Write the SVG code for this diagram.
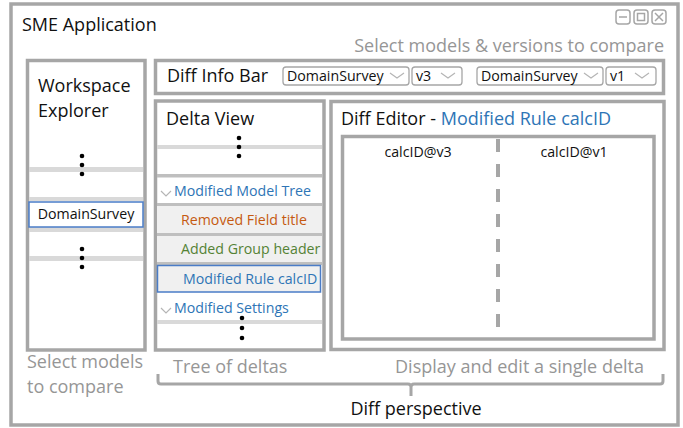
<svg xmlns="http://www.w3.org/2000/svg" width="683" height="428" viewBox="0 0 683 428">
  <style>
    text { font-family: "Open Sans", "Noto Sans", "DejaVu Sans", sans-serif; }
    .frame { fill: #ffffff; stroke: #a6a6a6; stroke-width: 3.5; }
    .band { fill: #d9d9d9; }
    .sep { fill: #bfbfbf; }
    .row { fill: #f0f0f0; }
    .sel { fill: #f0f0f0; stroke: #4a7cc7; stroke-width: 1.5; }
    .selw { fill: #ffffff; stroke: #4a7cc7; stroke-width: 1.5; }
    .drop { fill: #ffffff; stroke: #a6a6a6; stroke-width: 1.3; }
    .chev { fill: none; stroke: #b5b5b5; stroke-width: 1.2; }
    .title { font-size: 18px; fill: #111111; }
    .note { font-size: 18px; fill: #969696; }
    .item { font-size: 14.2px; fill: #111111; }
    .blue { fill: #2e75b6; }
    .orange { fill: #c55a11; }
    .green { fill: #548235; }
    .dot { fill: #000000; }
    .icon { fill: none; stroke: #a6a6a6; stroke-width: 1.5; }
  </style>

  <!-- application window -->
  <g id="sme-application">
    <rect class="frame" x="11" y="4" width="667" height="421"/>
    <text class="title" x="22" y="31">SME Application</text>
    <g id="window-buttons">
      <rect class="icon" x="616" y="10" width="14" height="14" rx="3"/>
      <line class="icon" x1="619" y1="17" x2="627" y2="17"/>
      <rect class="icon" x="634" y="10" width="14" height="14" rx="3"/>
      <rect class="icon" x="637.5" y="13.5" width="7" height="7"/>
      <rect class="icon" x="652" y="10" width="14" height="14" rx="3"/>
      <path class="icon" d="M655 13 L663 21 M663 13 L655 21"/>
    </g>
    <text class="note" x="664" y="52" text-anchor="end">Select models &amp; versions to compare</text>
  </g>

  <!-- workspace explorer -->
  <g id="workspace-explorer">
    <rect class="frame" x="27.5" y="60.5" width="117.5" height="289.5"/>
    <text class="title" x="38" y="92">Workspace</text>
    <text class="title" x="38" y="117">Explorer</text>
    <rect class="band" x="29" y="167" width="114" height="5"/>
    <rect class="band" x="29" y="197" width="114" height="4"/>
    <rect class="band" x="29" y="227" width="114" height="5"/>
    <rect class="band" x="29" y="256" width="114" height="5"/>
    <rect class="selw" x="29" y="202" width="114" height="25"/>
    <text class="item" x="86" y="219" text-anchor="middle">DomainSurvey</text>
    <circle class="dot" cx="82" cy="156" r="2.3"/>
    <circle class="dot" cx="82" cy="165" r="2.3"/>
    <circle class="dot" cx="82" cy="174" r="2.3"/>
    <circle class="dot" cx="82" cy="249" r="2.3"/>
    <circle class="dot" cx="82" cy="258" r="2.3"/>
    <circle class="dot" cx="82" cy="267" r="2.3"/>
  </g>

  <!-- diff info bar -->
  <g id="diff-info-bar">
    <rect class="frame" x="155.5" y="60.5" width="508" height="33"/>
    <text class="title" x="167" y="82">Diff Info Bar</text>
    <rect class="drop" x="283" y="67" width="126" height="18" rx="3"/>
    <text class="item" x="287" y="81">DomainSurvey</text>
    <polyline class="chev" points="390,73 397,78 404,73"/>
    <rect class="drop" x="412" y="67" width="50" height="18" rx="3"/>
    <text class="item" x="416" y="81">v3</text>
    <polyline class="chev" points="441,73 448,78 455,73"/>
    <rect class="drop" x="477" y="67" width="126" height="18" rx="3"/>
    <text class="item" x="481" y="81">DomainSurvey</text>
    <polyline class="chev" points="584,73 591,78 598,73"/>
    <rect class="drop" x="606" y="67" width="50" height="18" rx="3"/>
    <text class="item" x="610" y="81">v1</text>
    <polyline class="chev" points="635,73 642,78 649,73"/>
  </g>

  <!-- delta view -->
  <g id="delta-view">
    <rect class="frame" x="155.5" y="101" width="168.5" height="249"/>
    <text class="title" x="166" y="125">Delta View</text>
    <rect class="band" x="157" y="145" width="165" height="4"/>
    <rect class="sep" x="157" y="174" width="165" height="3.5"/>
    <rect class="sep" x="157" y="203" width="165" height="3"/>
    <rect class="row" x="157" y="206" width="165" height="27"/>
    <rect class="sep" x="157" y="233" width="165" height="3"/>
    <rect class="row" x="157" y="236" width="165" height="26"/>
    <rect class="sep" x="157" y="262" width="165" height="3"/>
    <rect class="sel" x="157.5" y="265.5" width="163" height="26.5"/>
    <rect class="band" x="157" y="320" width="165" height="4"/>
    <polyline class="chev" points="161,191 166,196 171,191"/>
    <text class="item blue" x="174" y="196">Modified Model Tree</text>
    <text class="item orange" x="181" y="225">Removed Field title</text>
    <text class="item green" x="181" y="254">Added Group header</text>
    <text class="item blue" x="183" y="284">Modified Rule calcID</text>
    <polyline class="chev" points="161,308 166,313 171,308"/>
    <text class="item blue" x="174" y="313">Modified Settings</text>
    <circle class="dot" cx="239" cy="138" r="2.3"/>
    <circle class="dot" cx="239" cy="147" r="2.3"/>
    <circle class="dot" cx="239" cy="156" r="2.3"/>
    <circle class="dot" cx="242" cy="318" r="2.3"/>
    <circle class="dot" cx="242" cy="328" r="2.3"/>
    <circle class="dot" cx="242" cy="338" r="2.3"/>
  </g>

  <!-- diff editor -->
  <g id="diff-editor">
    <rect class="frame" x="331" y="101.5" width="333" height="248"/>
    <text class="title" x="341" y="125">Diff Editor - <tspan class="blue">Modified Rule calcID</tspan></text>
    <rect class="frame" x="342.5" y="136.5" width="311.5" height="202.5"/>
    <line x1="498" y1="139" x2="498" y2="337" stroke="#a6a6a6" stroke-width="4" stroke-dasharray="13 12"/>
    <text class="item" x="418" y="157" text-anchor="middle">calcID@v3</text>
    <text class="item" x="574" y="157" text-anchor="middle">calcID@v1</text>
  </g>

  <!-- annotations -->
  <g id="annotations">
    <text class="note" x="27" y="368">Select models</text>
    <text class="note" x="27" y="393">to compare</text>
    <text class="note" x="173" y="373">Tree of deltas</text>
    <text class="note" x="644" y="373" text-anchor="end">Display and edit a single delta</text>
    <text class="title" x="416" y="415" text-anchor="middle">Diff perspective</text>
  </g>

  <!-- brace grouping the diff perspective -->
  <g id="connectors">
    <path d="M158 374 L158 381 Q158 384 161 384 L408 384 Q411 384 411 387 L411 396 M411 387 Q411 384 414 384 L660 384 Q663 384 663 381 L663 374" fill="none" stroke="#a6a6a6" stroke-width="3"/>
  </g>
</svg>
